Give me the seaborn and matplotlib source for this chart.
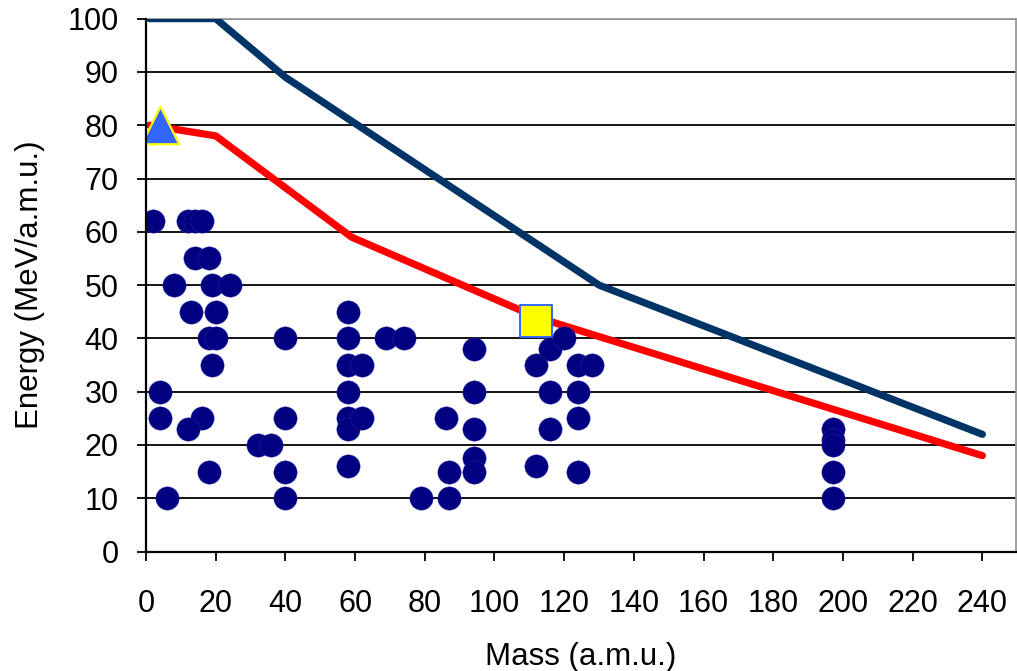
import numpy as np
import pandas as pd
import matplotlib
matplotlib.use("Agg")
import matplotlib.pyplot as plt
import seaborn as sns

# ---- data ----
dots_mass = [2, 12, 14, 16, 14, 18, 8, 19, 24, 13, 20, 18, 20, 19, 4, 4, 16, 12, 18, 6,
             32, 36, 40, 40, 40, 40, 58, 58, 58, 58, 58, 58, 58, 62, 62, 69, 74, 79,
             86, 87, 87, 94, 94, 94, 94, 94, 112, 112, 116, 116, 116, 120, 124, 124,
             124, 124, 128, 197, 197, 197, 197, 197]
dots_energy = [62, 62, 62, 62, 55, 55, 50, 50, 50, 45, 45, 40, 40, 35, 30, 25, 25, 23, 15, 10,
               20, 20, 40, 25, 15, 10, 45, 40, 35, 30, 25, 23, 16, 35, 25, 40, 40, 10,
               25, 15, 10, 38, 30, 23, 17.5, 15, 35, 16, 38, 30, 23, 40, 35, 30,
               25, 15, 35, 23, 21, 20, 15, 10]

upper_mass = [1, 20, 40, 130, 240]
upper_energy = [100, 100, 89, 50, 22]

lower_mass = [1, 20, 59, 112, 240]
lower_energy = [80, 78, 59, 44, 18]

triangle_mass = [4]
triangle_energy = [80]
square_mass = [112]
square_energy = [43.3]

x_ticks = list(range(0, 241, 20))
y_ticks = list(range(0, 101, 10))

# ---- plot ----
sns.set_theme(style="white")
plt.rcParams['font.family'] = ['Liberation Sans', 'DejaVu Sans']

fig = plt.figure(figsize=(10.17, 6.71), dpi=100)
ax = fig.add_axes([146/1017, 1 - 551.6/671, (1015.5 - 146)/1017, (551.6 - 18.6)/671])

df_up = pd.DataFrame({"mass": upper_mass, "energy": upper_energy})
df_lo = pd.DataFrame({"mass": lower_mass, "energy": lower_energy})
df_dots = pd.DataFrame({"mass": dots_mass, "energy": dots_energy})

sns.lineplot(data=df_up, x="mass", y="energy", sort=False, estimator=None,
             color="#003366", linewidth=5.2, ax=ax, zorder=3,
             solid_capstyle="round", solid_joinstyle="round")
sns.lineplot(data=df_lo, x="mass", y="energy", sort=False, estimator=None,
             color="#FF0000", linewidth=5.2, ax=ax, zorder=3,
             solid_capstyle="round", solid_joinstyle="round")

sns.scatterplot(x=square_mass, y=square_energy, marker="s", s=23**2,
                color="#FFFF00", edgecolor="#3366FF", linewidth=1.4, ax=ax, zorder=4)
sns.scatterplot(data=df_dots, x="mass", y="energy", s=16.8**2, color="#000080",
                edgecolor="#3333AA", linewidth=0.3, ax=ax, zorder=5)
sns.scatterplot(x=triangle_mass, y=triangle_energy, marker="^", s=27**2,
                color="#3366FF", edgecolor="#FFFF00", linewidth=1.6, ax=ax, zorder=6)

ax.set_xlim(0, 249.5)
ax.set_ylim(0, 100)
ax.set_xticks(x_ticks)
ax.set_yticks(y_ticks)
ax.set_xticklabels([str(v) for v in x_ticks])
ax.set_yticklabels([str(v) for v in y_ticks])

ax.yaxis.grid(True, color="black", linewidth=1.3, zorder=0.5)
ax.xaxis.grid(False)
ax.set_axisbelow(True)

for side in ["left", "bottom"]:
    ax.spines[side].set_color("black")
    ax.spines[side].set_linewidth(1.6)
    ax.spines[side].set_zorder(7)
for side in ["top", "right"]:
    ax.spines[side].set_color("#999999")
    ax.spines[side].set_linewidth(1.3)

ax.tick_params(axis="both", which="major", direction="out", length=6.2, width=1.3,
               color="black", labelsize=22, labelcolor="black",
               bottom=True, left=True)
ax.tick_params(axis="x", pad=20.5)
ax.tick_params(axis="y", pad=13.5)

ax.set_xlabel("Mass (a.m.u.)", fontsize=22.5, color="black", labelpad=17)
ax.set_ylabel("Energy (MeV/a.m.u.)", fontsize=22.5, color="black", labelpad=16)
if ax.get_legend() is not None:
    ax.get_legend().remove()

fig.savefig("out.png", dpi=100)
